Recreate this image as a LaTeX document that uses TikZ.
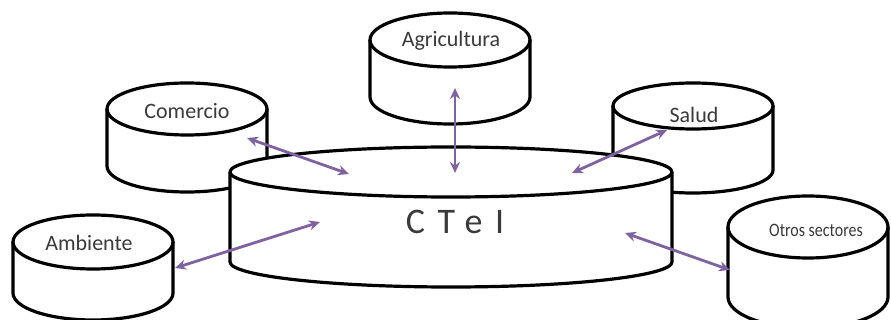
\documentclass[tikz,border=0pt]{standalone}
\usepackage{fontspec}
\setmainfont{Carlito}
\newfontfamily\ctfont[LetterSpace=35]{Carlito}
\usetikzlibrary{arrows.meta}
\definecolor{arrowpurple}{HTML}{7F63A1}
\definecolor{txtgray}{HTML}{3A3A3A}
\tikzset{
  cylline/.style={line width=3.2pt, draw=black, line join=round},
  link/.style={line width=2.8pt, draw=arrowpurple, {Stealth[length=11pt,width=10pt]}-{Stealth[length=11pt,width=10pt]}},
  lbl/.style={text=txtgray, inner sep=0pt, font=\fontsize{22}{24}\selectfont}
}
% \drawcyl{cx}{ytop}{ybottom}{rx}{ry}
\newcommand{\drawcyl}[5]{%
  \fill[white] (#1-#4,#2) -- (#1-#4,#3) arc[start angle=180,end angle=0,x radius=#4,y radius=#5]
     -- (#1+#4,#2) arc[start angle=0,end angle=-180,x radius=#4,y radius=#5] -- cycle;
  \draw[cylline] (#1,#2) ellipse[x radius=#4,y radius=#5];
  \draw[cylline] (#1-#4,#2) -- (#1-#4,#3) arc[start angle=180,end angle=0,x radius=#4,y radius=#5] -- (#1+#4,#2);
}
\begin{document}
\begin{tikzpicture}[x=1pt,y=1pt,yscale=-1]
\useasboundingbox (0,0) rectangle (891,320);
% cylinders (back to front)
\drawcyl{450}{40}{97}{80}{27}
\drawcyl{187}{109}{166}{80}{26}
\drawcyl{693}{106}{170}{80}{23}
\drawcyl{451}{172}{262}{221}{25}
\drawcyl{93}{242}{293}{80}{27}
\drawcyl{808}{227}{297}{80}{31}
% labels
\node[lbl] (agri) at (451,41) {Agricultura};
\node[lbl] (com) at (187,111) {Comercio};
\node[lbl] (amb) at (89,243) {Ambiente};
\node[lbl] (sal) at (694,115) {Salud};
\node[lbl, font=\fontsize{19}{21}\selectfont] (otr) at (816,230) {\scalebox{0.84}[1]{Otros sectores}};
\node[lbl, font=\fontsize{36}{40}\selectfont\ctfont] (ctei) at (455,222) {CTeI};
% arrow ends
\coordinate (a1) at (455,88);  \coordinate (a2) at (455,173);
\coordinate (c1) at (247,138); \coordinate (c2) at (349,174);
\coordinate (s1) at (667,130); \coordinate (s2) at (572,173);
\coordinate (m1) at (175,268); \coordinate (m2) at (320,222);
\coordinate (o1) at (730,270); \coordinate (o2) at (625,233);
\draw[link] (a1) -- (a2);
\draw[link] (c1) -- (c2);
\draw[link] (s1) -- (s2);
\draw[link] (m1) -- (m2);
\draw[link] (o1) -- (o2);
\end{tikzpicture}
\end{document}
